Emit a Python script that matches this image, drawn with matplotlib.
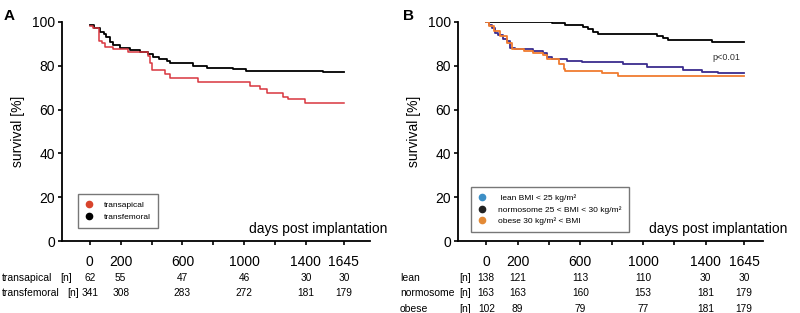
import matplotlib.pyplot as plt
from matplotlib.lines import Line2D

plt.rcParams["font.family"] = ["Liberation Sans", "DejaVu Sans"]

# panel A: Kaplan-Meier steps (days, survival %)
ta_days = [0, 20, 61, 76, 97, 151, 248, 378, 389, 400, 486, 518, 702, 1037, 1102, 1145, 1249, 1285, 1393, 1645]
ta_surv = [98.2, 97.0, 91.3, 90.3, 88.7, 87.5, 86.2, 84.5, 81.1, 78.1, 76.3, 74.3, 72.8, 70.8, 69.3, 67.7, 65.9, 64.7, 62.9, 62.9]
tf_days = [0, 30, 65, 90, 108, 130, 151, 194, 259, 324, 378, 410, 450, 497, 518, 605, 670, 756, 929, 1015, 1490, 1512, 1645]
tf_surv = [98.6, 97.2, 95.6, 94.4, 93.3, 91.0, 89.5, 88.0, 87.2, 86.1, 85.4, 83.9, 83.0, 82.3, 81.4, 81.1, 79.9, 78.9, 78.4, 77.8, 77.6, 77.3, 77.3]

# panel B
lean_days = [0, 20, 36, 57, 78, 110, 132, 153, 185, 301, 365, 387, 418, 514, 610, 875, 1023, 1256, 1374, 1478, 1645]
lean_surv = [100, 98.5, 97.4, 95.1, 93.9, 92.4, 91.3, 88.3, 87.6, 86.5, 86.0, 83.8, 83.0, 82.2, 81.5, 80.7, 79.2, 78.0, 77.2, 76.6, 76.6]
norm_days = [0, 418, 503, 616, 652, 684, 716, 1087, 1129, 1161, 1438, 1645]
norm_surv = [100, 99.4, 98.5, 97.7, 96.7, 95.4, 94.4, 93.6, 92.6, 91.7, 90.8, 90.8]
obese_days = [0, 20, 50, 89, 132, 163, 238, 301, 365, 387, 461, 493, 503, 737, 843, 1645]
obese_surv = [100, 98.0, 96.0, 93.6, 90.6, 87.6, 86.8, 85.6, 85.0, 83.0, 80.7, 78.5, 77.4, 76.6, 75.4, 75.4]

tick_days = [0, 200, 600, 1000, 1400, 1645]
minor_days = [400, 800, 1200]

rows_a = ["transapical", "transfemoral"]
n_a = [[62, 55, 47, 46, 30, 30],
       [341, 308, 283, 272, 181, 179]]
rows_b = ["lean", "normosome", "obese"]
n_b = [[138, 121, 113, 110, 30, 30],
       [163, 163, 160, 153, 181, 179],
       [102, 89, 79, 77, 181, 179]]

red = "#d9363e"
purple = "#3a2c8e"
orange = "#f07c30"

fig = plt.figure(figsize=(8, 3.13), dpi=100)
ax1 = fig.add_axes([0.0775, 0.23, 0.385, 0.70])
ax2 = fig.add_axes([0.5725, 0.23, 0.381, 0.70])


def style(ax, xmax):
    ax.set_ylim(0, 100)
    ax.set_xlim(-180, xmax)
    for s in ("top", "right"):
        ax.spines[s].set_visible(False)
    for s in ("left", "bottom"):
        ax.spines[s].set_linewidth(1.3)
    ax.set_yticks([0, 20, 40, 60, 80, 100])
    ax.set_xticks(tick_days)
    ax.set_xticks(minor_days, minor=True)
    ax.tick_params(axis="y", labelsize=10, length=3, width=1.2, pad=2)
    ax.tick_params(axis="x", which="both", labelsize=10, length=3, width=1.2, pad=7)
    ax.set_ylabel("survival [%]", fontsize=10, labelpad=5)


def legend(ax, handles, labels, anchor, textpad):
    ax.legend(handles, labels, loc="lower left", bbox_to_anchor=anchor,
              borderaxespad=0, fontsize=6, handlelength=1.0, handletextpad=textpad,
              borderpad=0.85, labelspacing=0.45, fancybox=False,
              edgecolor="#777777", framealpha=1)


ax1.step(tf_days, tf_surv, where="post", color="black", lw=1.3)
ax1.step(ta_days, ta_surv, where="post", color=red, lw=1.1)
style(ax1, 1815)
ax1.text(1.055, 0.022, "days post implantation", transform=ax1.transAxes,
         ha="right", va="bottom", fontsize=10)
h1 = [Line2D([], [], ls="", marker="o", ms=4.5, color="#d8442c"),
      Line2D([], [], ls="", marker="o", ms=4.5, color="black")]
legend(ax1, h1, rows_a, (0.052, 0.059), 1.2)

ax2.step(norm_days, norm_surv, where="post", color="black", lw=1.3)
ax2.step(lean_days, lean_surv, where="post", color=purple, lw=1.3)
ax2.step(obese_days, obese_surv, where="post", color=orange, lw=1.3)
style(ax2, 1764)
ax2.text(1.08, 0.022, "days post implantation", transform=ax2.transAxes,
         ha="right", va="bottom", fontsize=10)
ax2.text(1530, 82.5, "p<0.01", fontsize=6.5, color="#333333", ha="center")
h2 = [Line2D([], [], ls="", marker="o", ms=4.5, color="#3d8fc6"),
      Line2D([], [], ls="", marker="o", ms=4.5, color="#222222"),
      Line2D([], [], ls="", marker="o", ms=4.5, color="#e38a36")]
legend(ax2, h2, [" lean BMI < 25 kg/m²", "normosome 25 < BMI < 30 kg/m²",
                 "obese 30 kg/m² < BMI  "], (0.043, 0.04), 1.4)

# number-at-risk tables below the axes
row_y_a = [-0.168, -0.239]
n_x_a = [0.013, 0.036]
for name, counts, y, nx in zip(rows_a, n_a, row_y_a, n_x_a):
    ax1.text(-0.195, y, name, transform=ax1.transAxes, fontsize=7.5, va="center")
    ax1.text(nx, y, "[n]", transform=ax1.transAxes, fontsize=7.5, va="center", ha="center")
    for d, c in zip(tick_days, counts):
        ax1.text(d, y, str(c), transform=ax1.get_xaxis_transform(), fontsize=7.3,
                 ha="center", va="center")

row_y_b = [-0.168, -0.239, -0.31]
for name, counts, y in zip(rows_b, n_b, row_y_b):
    ax2.text(-0.19, y, name, transform=ax2.transAxes, fontsize=7.5, va="center")
    ax2.text(0.023, y, "[n]", transform=ax2.transAxes, fontsize=7.5, va="center", ha="center")
    for d, c in zip(tick_days, counts):
        ax2.text(d, y, str(c), transform=ax2.get_xaxis_transform(), fontsize=7.3,
                 ha="center", va="center")

fig.text(0.004, 0.97, "A", fontsize=11, fontweight="bold", va="top")
fig.text(0.504, 0.97, "B", fontsize=11, fontweight="bold", va="top")

fig.savefig("out.png", dpi=100)
